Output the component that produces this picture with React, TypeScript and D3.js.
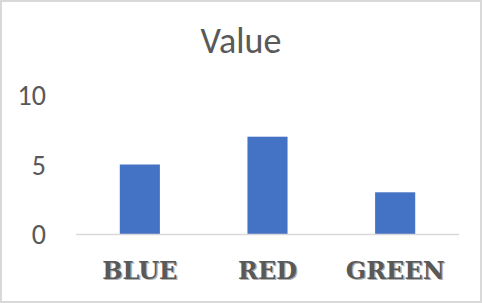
import React from "react";
import * as d3 from "d3";

const categories = ["BLUE", "RED", "GREEN"];
const values = [5, 7, 3];
const yTicks = [0, 5, 10];
const title = "Value";

const W = 482;
const H = 303;

export default function App() {
  const x = d3
    .scaleBand<string>()
    .domain(categories)
    .range([76, 459])
    .paddingInner(0.686)
    .paddingOuter(0.343);
  const y = d3.scaleLinear().domain([0, 10]).range([234, 95]);
  const textColor = "#595959";
  const sans = "Carlito, 'Open Sans', 'Liberation Sans', sans-serif";
  const catFont = "'DejaVu Serif', 'Liberation Serif', serif";

  return (
    <div style={{ position: "fixed", left: 0, top: 0 }}>
      <svg width={W} height={H} style={{ display: "block" }}>
        <rect x={0} y={0} width={W} height={H} fill="#ffffff" />
        <rect x={1} y={1} width={W - 2} height={H - 2} fill="none" stroke="#d9d9d9" strokeWidth={2} />
        <text x={W / 2} y={53} textAnchor="middle" fill={textColor} fontFamily={sans} fontSize={36}>
          {title}
        </text>
        {yTicks.map((t) => (
          <text
            key={t}
            x={46}
            y={y(t)}
            dy="0.36em"
            textAnchor="end"
            fill={textColor}
            fontFamily={sans}
            fontSize={28}
          >
            {t}
          </text>
        ))}
        {categories.map((c, i) => (
          <rect
            key={c}
            x={x(c)}
            y={y(values[i])}
            width={x.bandwidth()}
            height={y(0) - y(values[i])}
            fill="#4472c4"
          />
        ))}
        <line x1={76} x2={459} y1={y(0) + 0.5} y2={y(0) + 0.5} stroke="#d9d9d9" strokeWidth={1.5} />
        {categories.map((c) => {
          const cx = (x(c) ?? 0) + x.bandwidth() / 2;
          return (
            <g key={c}>
              <text
                x={cx + 1.3}
                y={279 + 1}
                textAnchor="middle"
                fill="#b0b0b0"
                fontFamily={catFont}
                fontWeight="bold"
                fontSize={24}
              >
                {c}
              </text>
              <text
                x={cx}
                y={279}
                textAnchor="middle"
                fill={textColor}
                fontFamily={catFont}
                fontWeight="bold"
                fontSize={24}
              >
                {c}
              </text>
            </g>
          );
        })}
      </svg>
    </div>
  );
}
